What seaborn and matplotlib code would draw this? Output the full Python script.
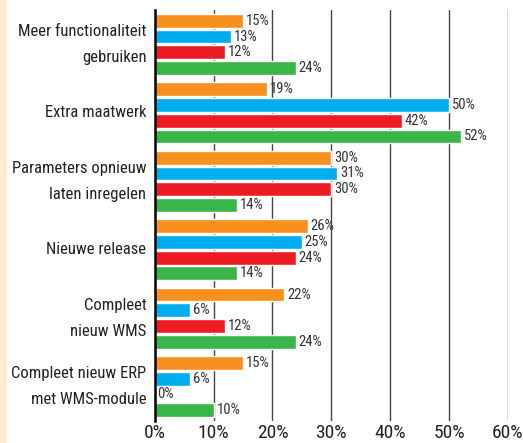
import pandas as pd
import numpy as np
import matplotlib
matplotlib.use("Agg")
import matplotlib.pyplot as plt
import seaborn as sns
from matplotlib.patches import Rectangle

categories = ["Meer functionaliteit\ngebruiken", "Extra maatwerk",
              "Parameters opnieuw\nlaten inregelen", "Nieuwe release",
              "Compleet\nnieuw WMS", "Compleet nieuw ERP\nmet WMS-module"]
series = ["reeks 1", "reeks 2", "reeks 3", "reeks 4"]
oranje = [15, 19, 30, 26, 22, 15]
blauw = [13, 50, 31, 25, 6, 6]
rood = [12, 42, 30, 24, 12, 0]
groen = [24, 52, 14, 14, 24, 10]
xticks = [0, 10, 20, 30, 40, 50, 60]
colors = ["#F7901E", "#00AEEF", "#ED1C24", "#39B54A"]

rows = []
for s, vals in zip(series, [oranje, blauw, rood, groen]):
    for c, v in zip(categories, vals):
        rows.append({"categorie": c, "reeks": s, "waarde": v})
df = pd.DataFrame(rows)

sns.set_style("white")
plt.rcParams['font.family'] = ['Roboto Condensed', 'Archivo Narrow', 'DejaVu Sans']

fig = plt.figure(figsize=(5.23, 4.43), dpi=100)
ax = fig.add_axes([0.296, 0.05, 0.675, 0.927])
fig.patches.append(Rectangle((0, 0), 6 / 523, 1, transform=fig.transFigure,
                             color="#FDEBD0", zorder=0))

sns.barplot(data=df, y="categorie", x="waarde", hue="reeks", order=categories,
            hue_order=series, palette=colors, saturation=1, orient="h",
            width=0.92, gap=0.12, legend=False, ax=ax, zorder=3)

for cont in ax.containers:
    ax.bar_label(cont, labels=[f"{int(v)}%" for v in cont.datavalues],
                 padding=2, fontsize=10.5, color="#333333")

ax.set_xlim(0, 60)
ax.set_ylim(5.5, -0.5)
ax.set_xticks(xticks)
ax.set_xticklabels([f"{t}%" for t in xticks], fontsize=14, color="#222222")
ax.tick_params(axis="x", length=0, pad=2)
ax.tick_params(axis="y", length=0, pad=6, labelsize=12, labelcolor="#222222")
for lab in ax.get_yticklabels():
    lab.set_linespacing(1.9)
    lab.set_verticalalignment("center")
ax.set_xlabel("")
ax.set_ylabel("")
for x in xticks[1:]:
    ax.axvline(x, color="#444444", lw=1.0, zorder=1)
for s in ["top", "right", "bottom"]:
    ax.spines[s].set_visible(False)
ax.spines["left"].set_color("black")
ax.spines["left"].set_linewidth(1.8)
ax.spines["left"].set_zorder(5)

fig.savefig("out.png", dpi=100)
